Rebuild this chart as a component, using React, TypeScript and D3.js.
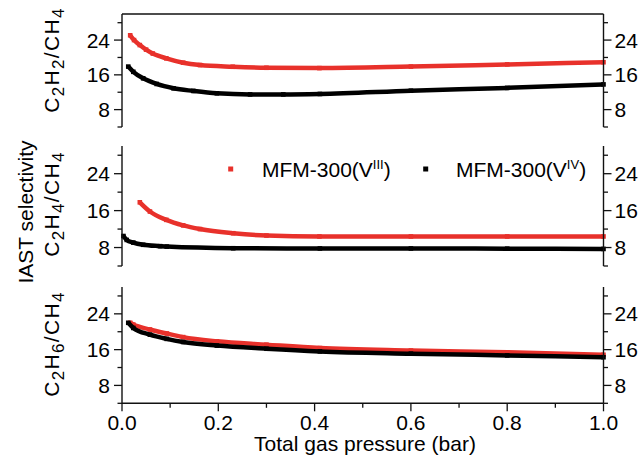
import React from "react";
import * as d3 from "d3";

// ---------- data ----------
const seriesNames = ["MFM-300(V", "MFM-300(V"];
const seriesSups = ["III", "IV"];
const panelLabels = [
  ["C", "2", "H", "2", "/CH", "4"],
  ["C", "2", "H", "4", "/CH", "4"],
  ["C", "2", "H", "6", "/CH", "4"],
];
const xMajorTicks = [0, 0.2, 0.4, 0.6, 0.8, 1.0];
const xMinorTicks = [0.1, 0.3, 0.5, 0.7, 0.9];
const yMajorTicks = [8, 16, 24];
const yMinorTicks = [4, 12, 20, 28];

// C2H2/CH4
const c2h2P_III = [0.017, 0.025, 0.037, 0.05, 0.064, 0.092, 0.127, 0.162, 0.23, 0.3, 0.41, 0.6, 0.8, 1.0];
const c2h2S_III = [25.1, 24.0, 22.85, 21.8, 20.9, 19.8, 18.8, 18.25, 17.86, 17.63, 17.55, 17.9, 18.4, 18.9];
const c2h2P_IV = [0.013, 0.0235, 0.044, 0.072, 0.107, 0.148, 0.197, 0.266, 0.335, 0.411, 0.6, 0.8, 1.0];
const c2h2S_IV = [17.9, 16.7, 15.2, 13.9, 12.9, 12.3, 11.75, 11.5, 11.5, 11.6, 12.35, 13.0, 13.8];

// C2H4/CH4
const c2h4P_III = [0.037, 0.058, 0.092, 0.127, 0.162, 0.231, 0.3, 0.41, 0.6, 0.8, 1.0];
const c2h4S_III = [17.8, 15.8, 14.0, 12.8, 12.0, 11.1, 10.6, 10.4, 10.4, 10.4, 10.4];
const c2h4P_IV = [0.003, 0.0098, 0.0235, 0.044, 0.079, 0.093, 0.231, 0.411, 0.6, 0.8, 1.0];
const c2h4S_IV = [10.5, 9.65, 9.07, 8.6, 8.3, 8.2, 7.85, 7.8, 7.8, 7.75, 7.7];

// C2H6/CH4
const c2h6P_III = [0.017, 0.0235, 0.058, 0.093, 0.127, 0.197, 0.3, 0.411, 0.6, 0.8, 1.0];
const c2h6S_III = [22.0, 21.6, 20.5, 19.6, 18.8, 17.85, 17.1, 16.35, 15.8, 15.4, 14.85];
const c2h6P_IV = [0.013, 0.0235, 0.058, 0.093, 0.127, 0.197, 0.3, 0.411, 0.6, 0.8, 1.0];
const c2h6S_IV = [22.0, 20.85, 19.35, 18.4, 17.7, 16.9, 16.2, 15.6, 15.1, 14.7, 14.3];

const colors = ["#e8312b", "#000000"];

// ---------- layout ----------
const W = 639;
const H = 457;
const X0 = 122;
const X1 = 603.5;
const panels = [
  { top: 14, bottom: 127, frameTop: true, xAxis: false, labelY: 60, data: [[c2h2P_III, c2h2S_III], [c2h2P_IV, c2h2S_IV]] },
  { top: 146, bottom: 266, frameTop: false, xAxis: false, labelY: 204, data: [[c2h4P_III, c2h4S_III], [c2h4P_IV, c2h4S_IV]] },
  { top: 287, bottom: 403.3, frameTop: false, xAxis: true, labelY: 344, data: [[c2h6P_III, c2h6S_III], [c2h6P_IV, c2h6S_IV]] },
];

const FONT = "'Liberation Sans', Arial, sans-serif";
const AX = "#111";

export default function App() {
  const x = d3.scaleLinear().domain([0, 1]).range([X0, X1]);

  return (
    <svg width={W} height={H} style={{ position: "absolute", left: 0, top: 0, background: "#fff" }} fontFamily={FONT}>
      <rect x={0} y={0} width={W} height={H} fill="#fff" />
      {panels.map((pn, pi) => {
        const y = d3.scaleLinear().domain([4, 30]).range([pn.bottom, pn.top]);
        const line = d3
          .line<[number, number]>()
          .x((d) => x(d[0]))
          .y((d) => y(d[1]))
          .curve(d3.curveMonotoneX);
        const lab = panelLabels[pi];
        return (
          <g key={pi}>
            {/* series */}
            {pn.data.map((s, si) => {
              const pts: [number, number][] = s[0].map((p, i) => [p, s[1][i]]);
              return (
                <g key={si}>
                  <path d={line(pts) || ""} fill="none" stroke={colors[si]} strokeWidth={4.5} />
                  {pts.map((d, i) => (
                    <rect key={i} x={x(d[0]) - 2.3} y={y(d[1]) - 2.3} width={4.6} height={4.6} fill={colors[si]} />
                  ))}
                </g>
              );
            })}
            {/* axes */}
            <line x1={X0} x2={X0} y1={pn.top} y2={pn.bottom} stroke={AX} strokeWidth={1.4} />
            <line x1={X1} x2={X1} y1={pn.top} y2={pn.bottom} stroke={AX} strokeWidth={1.4} />
            {pn.frameTop && <line x1={X0} x2={X1} y1={pn.top} y2={pn.top} stroke={AX} strokeWidth={1.4} />}
            {yMajorTicks.map((t) => (
              <g key={"M" + t}>
                <line x1={X0 - 8} x2={X0} y1={y(t)} y2={y(t)} stroke={AX} strokeWidth={1.3} />
                <line x1={X1} x2={X1 + 8} y1={y(t)} y2={y(t)} stroke={AX} strokeWidth={1.3} />
                <text x={X0 - 12} y={y(t)} dy="0.36em" textAnchor="end" fontSize={21} fill="#000">
                  {t}
                </text>
                <text x={X1 + 11} y={y(t)} dy="0.36em" textAnchor="start" fontSize={21} fill="#000">
                  {t}
                </text>
              </g>
            ))}
            {yMinorTicks.map((t) => (
              <g key={"m" + t}>
                <line x1={X0 - 4.5} x2={X0} y1={y(t)} y2={y(t)} stroke={AX} strokeWidth={1.3} />
                <line x1={X1} x2={X1 + 4.5} y1={y(t)} y2={y(t)} stroke={AX} strokeWidth={1.3} />
              </g>
            ))}
            {pn.xAxis && (
              <g>
                <line x1={X0} x2={X1} y1={pn.bottom} y2={pn.bottom} stroke={AX} strokeWidth={1.4} />
                {xMajorTicks.map((t) => (
                  <g key={"xM" + t}>
                    <line x1={x(t)} x2={x(t)} y1={pn.bottom} y2={pn.bottom + 8} stroke={AX} strokeWidth={1.3} />
                    <text x={x(t)} y={430} textAnchor="middle" fontSize={21} fill="#000">
                      {t.toFixed(1)}
                    </text>
                  </g>
                ))}
                {xMinorTicks.map((t) => (
                  <line key={"xm" + t} x1={x(t)} x2={x(t)} y1={pn.bottom} y2={pn.bottom + 4.5} stroke={AX} strokeWidth={1.3} />
                ))}
              </g>
            )}
            {/* panel y label */}
            <text transform={`translate(59,${pn.labelY}) rotate(-90)`} textAnchor="middle" fontSize={21} letterSpacing={1.3} fill="#000">
              <tspan>{lab[0]}</tspan>
              <tspan fontSize={17} dy={5}>{lab[1]}</tspan>
              <tspan dy={-5}>{lab[2]}</tspan>
              <tspan fontSize={17} dy={5}>{lab[3]}</tspan>
              <tspan dy={-5}>{lab[4]}</tspan>
              <tspan fontSize={17} dy={5}>{lab[5]}</tspan>
            </text>
          </g>
        );
      })}
      {/* common labels */}
      <text transform="translate(33,212) rotate(-90)" textAnchor="middle" fontSize={21} fill="#000">
        IAST selectivity
      </text>
      <text x={365} y={451} textAnchor="middle" fontSize={21} fill="#000">
        Total gas pressure (bar)
      </text>
      {/* legend */}
      {[0, 1].map((i) => {
        const sx = i === 0 ? 230.7 : 425.7;
        const tx = i === 0 ? 262 : 456;
        return (
          <g key={"leg" + i}>
            <rect x={sx - 2.5} y={169 - 2.5} width={5} height={5} fill={colors[i]} />
            <text x={tx} y={177} fontSize={21} fill="#000">
              {seriesNames[i]}
              <tspan fontSize={13} dy={-8}>{seriesSups[i]}</tspan>
              <tspan dy={8}>)</tspan>
            </text>
          </g>
        );
      })}
    </svg>
  );
}
